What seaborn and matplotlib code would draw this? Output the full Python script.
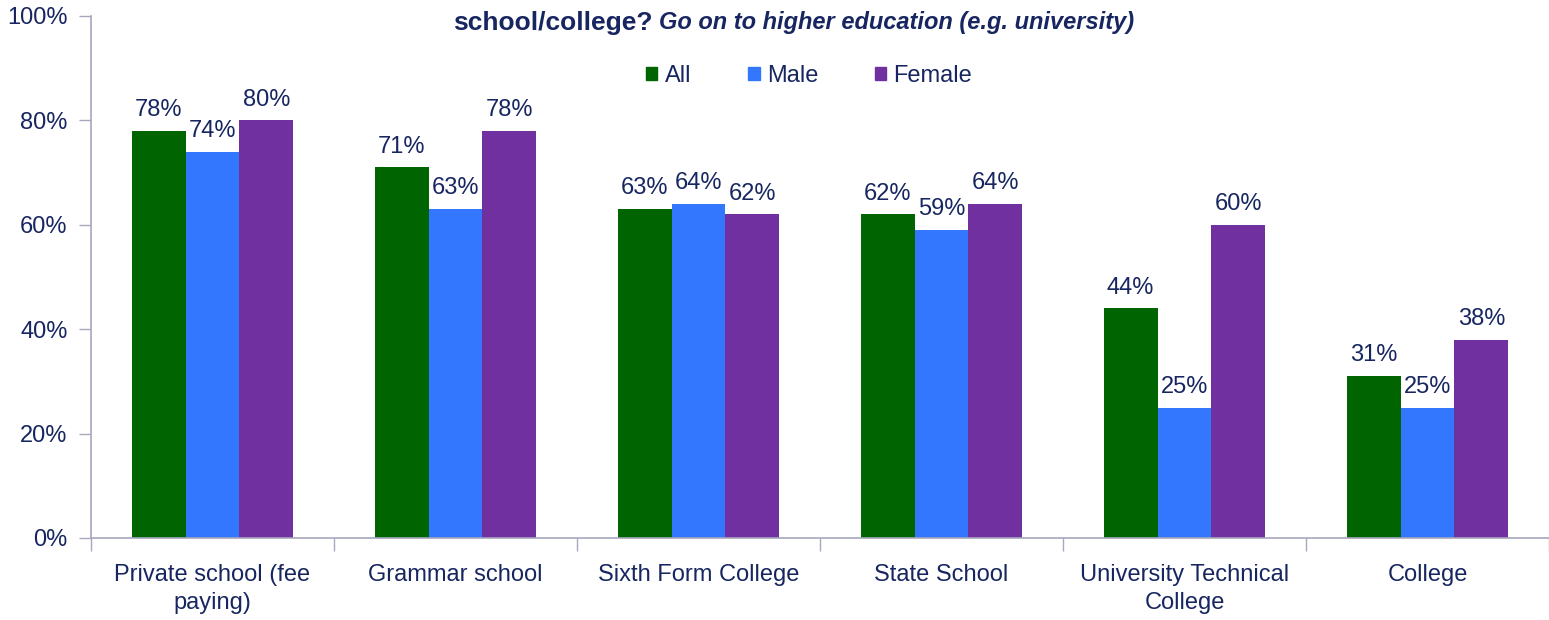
import seaborn as sns
import matplotlib.pyplot as plt
import matplotlib.patches as mpatches
import pandas as pd

schools = ['Private school (fee\npaying)', 'Grammar school', 'Sixth Form College',
           'State School', 'University Technical\nCollege', 'College']
groups = ['All', 'Male', 'Female']
all_vals = [78, 71, 63, 62, 44, 31]
male_vals = [74, 63, 64, 59, 25, 25]
female_vals = [80, 78, 62, 64, 60, 38]
y_ticks = [0, 20, 40, 60, 80, 100]

colors = ['#006400', '#3377FF', '#7030A0']
text_color = '#172660'
spine_color = '#A7A7BD'
fs = 17

sns.set_style('white')
plt.rcParams['font.family'] = ['Liberation Sans', 'DejaVu Sans']

df = pd.DataFrame({
  'school': schools * 3,
  'group': [g for g in groups for _ in schools],
  'value': all_vals + male_vals + female_vals,
})

fig = plt.figure(figsize=(15.49, 6.2), dpi=100)
ax = fig.add_axes([91 / 1549, 1 - 538 / 620, 1 - 91 / 1549, (538 - 16) / 620])

sns.barplot(data=df, x='school', y='value', hue='group', order=schools, hue_order=groups,
            palette=colors, saturation=1, width=0.665, ax=ax, legend=False, errorbar=None,
            linewidth=0)

for c in ax.containers:
  ax.bar_label(c, fmt='%d%%', padding=7, fontsize=fs, color=text_color)

ax.set_xlim(-0.5, len(schools) - 0.5)
ax.set_ylim(0, 100)
ax.set_yticks(y_ticks)
ax.set_yticklabels([f'{t}%' for t in y_ticks])
ax.set_xlabel('')
ax.set_ylabel('')

ax.set_xticks(range(len(schools)))
ax.set_xticklabels(schools, linespacing=1.35)
ax.set_xticks([i - 0.5 for i in range(len(schools) + 1)], minor=True)
ax.tick_params(axis='x', which='major', length=0, pad=19, labelsize=fs, labelcolor=text_color)
ax.tick_params(axis='x', which='minor', length=9, width=1, color=spine_color, direction='out', bottom=True)
ax.tick_params(axis='y', length=9, width=1, color=spine_color, direction='out', left=True,
               labelsize=fs, labelcolor=text_color, pad=8)

for side in ['top', 'right']:
  ax.spines[side].set_visible(False)
for side in ['left', 'bottom']:
  ax.spines[side].set_color(spine_color)
  ax.spines[side].set_linewidth(1.2)

fig.text(453 / 1549, 1 - 23 / 620, 'school/college?', fontsize=19, fontweight='bold',
         color=text_color, va='center', ha='left')
fig.text(659 / 1549, 1 - 23 / 620, 'Go on to higher education (e.g. university)', fontsize=17,
         fontweight='bold', fontstyle='italic', color=text_color, va='center', ha='left')

handles = [mpatches.Patch(color=c, label=g) for c, g in zip(colors, groups)]
fig.legend(handles=handles, loc='center', bbox_to_anchor=(809 / 1549, 1 - 76 / 620), ncol=3,
           frameon=False, fontsize=fs, handlelength=0.5, handleheight=0.5, handletextpad=0.3,
           columnspacing=2.4, labelcolor=text_color)

plt.savefig('out.png', dpi=100)
